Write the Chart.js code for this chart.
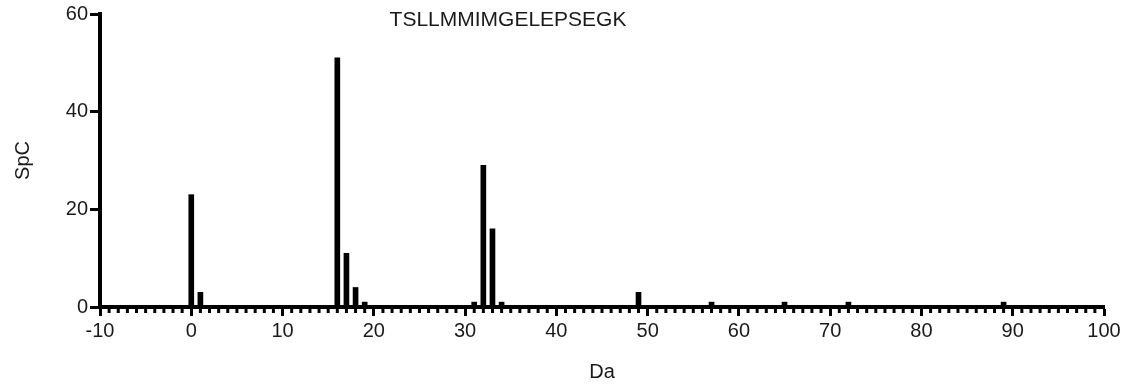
<!DOCTYPE html>
<html><head><meta charset="utf-8">
<script src="https://cdn.jsdelivr.net/npm/chart.js@4.4.1/dist/chart.umd.min.js"></script>
<style>html,body{margin:0;padding:0;background:#fff}#wrap{width:1128px;height:386px;position:relative}</style>
</head><body><div id="wrap"><canvas id="c" width="1128" height="386"></canvas></div>
<script>
const massShifts = [0, 1, 16, 17, 18, 19, 31, 32, 33, 34, 49, 57, 65, 72, 89];
const spectralCounts = [23, 3, 51, 11, 4, 1, 1, 29, 16, 1, 3, 1, 1, 1, 1];
const peptide = 'TSLLMMIMGELEPSEGK';
const xRange = [-10, 100];
const yRange = [0, 60];
const xLabel = 'Da';
const yLabel = 'SpC';

const FONT = "'Liberation Sans', Arial, sans-serif";
const TXT = '#1a1a1a';

const minorTicks = {
  id: 'minorTicks',
  afterDatasetsDraw(chart) {
    const xs = chart.scales.x, ctx = chart.ctx, y0 = chart.chartArea.bottom;
    ctx.save();
    ctx.strokeStyle = '#000';
    ctx.lineWidth = 3;
    for (let v = xRange[0]; v <= xRange[1]; v++) {
      if (v % 10 === 0) continue;
      const px = xs.getPixelForValue(v);
      ctx.beginPath();
      ctx.moveTo(px, y0);
      ctx.lineTo(px, y0 + 6);
      ctx.stroke();
    }
    ctx.restore();
  }
};
const titlePlugin = {
  id: 'peptideTitle',
  afterDraw(chart) {
    const ctx = chart.ctx;
    ctx.save();
    ctx.fillStyle = TXT;
    ctx.font = '21px ' + FONT;
    ctx.textAlign = 'center';
    ctx.textBaseline = 'middle';
    ctx.fillText(peptide, 508, 20);
    ctx.restore();
  }
};

new Chart(document.getElementById('c'), {
  type: 'bar',
  data: {
    datasets: [{
      data: massShifts.map((m, i) => ({ x: m, y: spectralCounts[i] })),
      backgroundColor: '#000',
      borderWidth: 0,
      barThickness: 5
    }]
  },
  options: {
    responsive: false,
    animation: false,
    layout: { padding: { top: 12, right: 24, left: 0, bottom: 0 } },
    plugins: { legend: { display: false }, tooltip: { enabled: false }, title: { display: false } },
    scales: {
      x: {
        type: 'linear',
        offset: false,
        min: xRange[0], max: xRange[1],
        afterFit(s) { s.height = 79; },
        ticks: { stepSize: 10, color: TXT, font: { family: FONT, size: 20 }, padding: 3, maxRotation: 0 },
        grid: { display: true, offset: false, drawOnChartArea: false, drawTicks: true, tickLength: 9, tickWidth: 3, tickColor: '#000', color: '#000' },
        border: { display: true, width: 4, color: '#000' },
        title: { display: true, text: xLabel, color: TXT, font: { family: FONT, size: 20 }, padding: { top: 8, bottom: 2 } }
      },
      y: {
        min: yRange[0], max: yRange[1],
        afterFit(s) { s.width = 100; },
        ticks: { stepSize: 20, color: TXT, font: { family: FONT, size: 20 }, padding: 2 },
        grid: { display: true, drawOnChartArea: false, drawTicks: true, tickLength: 10, tickWidth: 3, tickColor: '#000', color: '#000' },
        border: { display: true, width: 4, color: '#000' },
        title: { display: true, text: yLabel, color: TXT, font: { family: FONT, size: 20 }, padding: { top: 11, bottom: 20 } }
      }
    }
  },
  plugins: [minorTicks, titlePlugin]
});
</script></body></html>
